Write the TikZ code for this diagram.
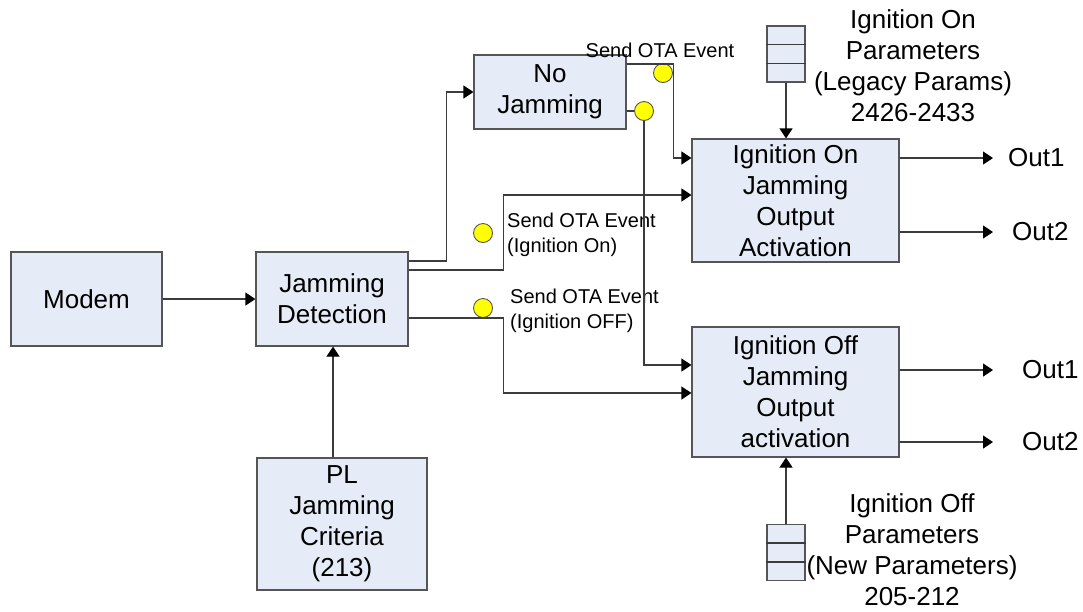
\documentclass[tikz,border=0pt]{standalone}
\usepackage{fontspec}
\setmainfont{Liberation Sans}
\usetikzlibrary{arrows.meta,calc}

\definecolor{boxfill}{RGB}{230,236,247}
\definecolor{boxedge}{RGB}{85,85,85}
\definecolor{wirecol}{RGB}{60,60,60}
\definecolor{dotfill}{RGB}{255,255,0}

\tikzset{
  block/.style={draw=boxedge, line width=1.2pt, fill=boxfill, align=center,
    inner sep=0pt, font=\fontsize{26}{31}\selectfont},
  stackbox/.style={draw=boxedge, line width=1.2pt, fill=boxfill,
    minimum width=38pt, minimum height=56pt, inner sep=0pt},
  wire/.style={draw=wirecol, line width=1.2pt},
  flow/.style={wire, -{Triangle[length=10pt,width=13pt,color=black]}},
  dot/.style={circle, draw=boxedge, line width=0.9pt, fill=dotfill,
    minimum size=19pt, inner sep=0pt},
  biglabel/.style={align=center, inner sep=0pt, font=\fontsize{26}{31}\selectfont},
  smalllabel/.style={align=left, inner sep=0pt, font=\fontsize{20}{25}\selectfont},
  outlabel/.style={anchor=west, inner ysep=0pt, font=\fontsize{26}{31}\selectfont},
}

\begin{document}
\begin{tikzpicture}[x=1pt,y=-1pt]
\useasboundingbox (0,0) rectangle (1083,611);

% blocks
\node[block, minimum width=151pt, minimum height=94pt]  (modem)  at (86.5,299)  {Modem};
\node[block, minimum width=152pt, minimum height=94pt]  (jd)     at (332,299)   {Jamming\\Detection};
\node[block, minimum width=170pt, minimum height=132pt] (pl)     at (342,524)   {PL\\Jamming\\Criteria\\(213)};
\node[block, minimum width=152pt, minimum height=74pt]  (nj)     at (550,92)    {No\\Jamming};
\node[block, minimum width=207pt, minimum height=123pt] (ignon)  at (795.5,200.5) {Ignition On\\Jamming\\Output\\Activation};
\node[block, minimum width=207pt, minimum height=130pt] (ignoff) at (795.5,392)  {Ignition Off\\Jamming\\Output\\activation};

% parameter stacks
\node[stackbox] (pon)  at (786,54)    {};
\node[stackbox] (poff) at (786,552.5) {};
\foreach \s in {pon,poff}{
  \draw[wire] ($(\s.north west)!0.333!(\s.south west)$) -- ($(\s.north east)!0.333!(\s.south east)$);
  \draw[wire] ($(\s.north west)!0.667!(\s.south west)$) -- ($(\s.north east)!0.667!(\s.south east)$);
}
\node[biglabel] (ponlbl)  at (913,66)  {Ignition On\\Parameters\\(Legacy Params)\\2426-2433};
\node[biglabel] (pofflbl) at (912,549.5) {Ignition Off\\Parameters\\(New Parameters)\\205-212};

% event markers
\node[dot] (d1) at (663,73)  {};
\node[dot] (d2) at (644,111) {};
\node[dot] (d3) at (483,233) {};
\node[dot] (d4) at (483,308) {};

\node[smalllabel] (ev1) at (660,50) {Send OTA Event};
\node[smalllabel, anchor=west] (ev2) at (507,234.5) {Send OTA Event\\(Ignition On)};
\node[smalllabel, anchor=west] (ev3) at (510,310.5) {Send OTA Event\\(Ignition OFF)};

% connectors
\draw[flow] (modem.east) -- (jd.west);
\draw[flow] ([yshift=38pt]jd.east) -- ++(38,0) |- (nj.west);
\draw[flow] ([yshift=29pt]jd.east) -- ++(95,0) |- ([yshift=5.5pt]ignon.west);
\draw[flow] ([yshift=-19pt]jd.east) -- ++(95,0) |- ([yshift=-1pt]ignoff.west);
\draw[flow] ([yshift=28pt]nj.east) -- ++(47,0) |- ([yshift=42.5pt]ignon.west);
\draw[wire] ([yshift=-19pt]nj.east) -- (d2.west);
\draw[flow] (d2.south) |- ([yshift=27pt]ignoff.west);
\draw[flow] ([xshift=-9pt]pl.north) -- ([xshift=-9pt]pl.north |- jd.south);
\draw[flow] (pon.south) -- (pon.south |- ignon.north);
\draw[flow] (poff.north) -- (poff.north |- ignoff.south);

% outputs
\node[outlabel, inner xsep=15pt] (on1)  at (993,158) {Out1};
\node[outlabel, inner xsep=19pt] (on2)  at (993,232) {Out2};
\node[outlabel, inner xsep=29pt] (off1) at (993,370) {Out1};
\node[outlabel, inner xsep=29pt] (off2) at (993,442) {Out2};
\draw[flow] (ignon.east |- on1.west) -- (on1.west);
\draw[flow] (ignon.east |- on2.west) -- (on2.west);
\draw[flow] (ignoff.east |- off1.west) -- (off1.west);
\draw[flow] (ignoff.east |- off2.west) -- (off2.west);
\end{tikzpicture}
\end{document}
